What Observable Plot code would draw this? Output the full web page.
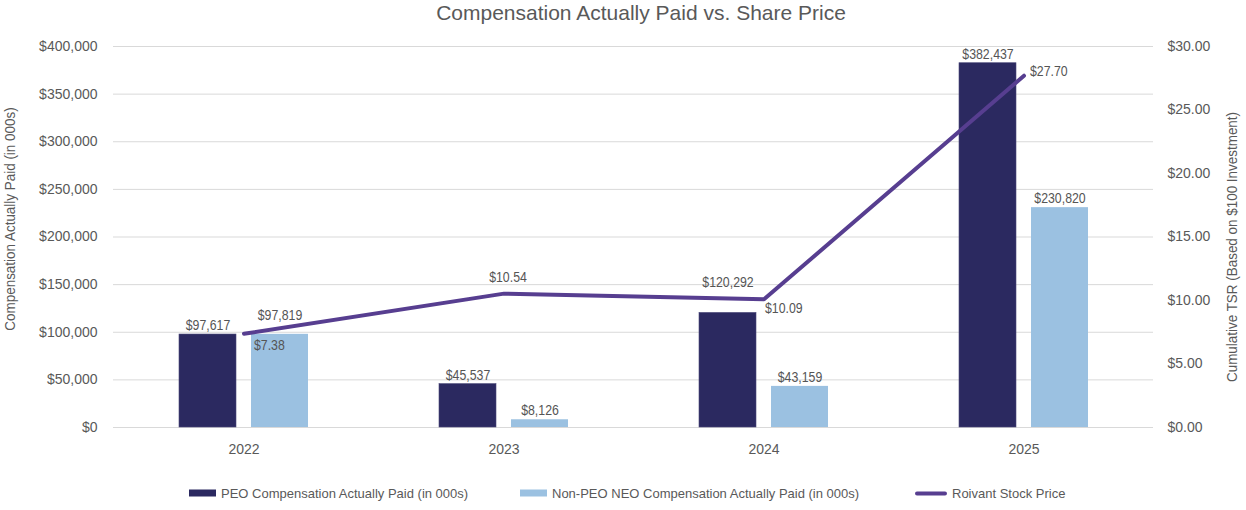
<!DOCTYPE html>
<html>
<head>
<meta charset="utf-8">
<script src="https://cdn.jsdelivr.net/npm/d3@7"></script>
<script src="https://cdn.jsdelivr.net/npm/@observablehq/plot@0.6"></script>
<style>
  body { margin: 0; background: #fff; font-family: "Liberation Sans", Arial, sans-serif; }
  #wrap { position: relative; width: 1246px; height: 510px; }
  #title { position: absolute; top: 0; left: 641px; transform: translateX(-50%); white-space: nowrap;
           font-size: 21px; line-height: 26px; color: #595959; }
  #chart { position: absolute; top: 26px; left: 0; }
  #legend { position: absolute; top: 476px; left: 0; width: 1246px; height: 34px; font-size: 13px; color: #595959; }
  .item { position: absolute; top: 17px; display: flex; align-items: center; white-space: nowrap; }
  .sw { display: inline-block; width: 27px; height: 7px; margin-right: 5px; }
  .ln { display: inline-block; width: 32px; height: 4px; border-radius: 2px; margin-right: 5px; }
</style>
</head>
<body>
<div id="wrap">
  <div id="title">Compensation Actually Paid vs. Share Price</div>
  <div id="chart"></div>
  <div id="legend"></div>
</div>
<script>
// ---- data ----
const years = ["2022", "2023", "2024", "2025"];
const peoCap = [97617, 45537, 120292, 382437];
const neoCap = [97819, 8126, 43159, 230820];
const stockPrice = [7.38, 10.54, 10.09, 27.70];
const leftTicks = [0, 50000, 100000, 150000, 200000, 250000, 300000, 350000, 400000];
const rightTicks = [0, 5, 10, 15, 20, 25, 30];
const seriesNames = ["PEO Compensation Actually Paid (in 000s)", "Non-PEO NEO Compensation Actually Paid (in 000s)", "Roivant Stock Price"];
const leftTitle = "Compensation Actually Paid (in 000s)";
const rightTitle = "Cumulative TSR (Based on $100 Investment)";

// ---- styles ----
const cPeo = "#2b2960", cNeo = "#9bc1e1", cLine = "#573e90", cText = "#595959";
const leftMax = 400000, rightMax = 30, k = leftMax / rightMax;

const peoRows = years.map((y, i) => ({year: y, value: peoCap[i]}));
const neoRows = years.map((y, i) => ({year: y, value: neoCap[i]}));
const stockRows = years.map((y, i) => ({year: y, price: stockPrice[i]}));

const fmtMoney = v => "$" + d3.format(",")(v);
const fmtPrice = v => "$" + v.toFixed(2);

const barW = 57, gap = 15, group = 2 * barW + gap;
const shift = (group - barW) / 2;

const lbl = (rows, opts) => Plot.text(rows, {
  x: "year", fill: "#555", fontSize: 14, ...opts
});

const chart = Plot.plot({
  width: 1246,
  height: 450,
  marginTop: 20,
  marginBottom: 49,
  marginLeft: 113,
  marginRight: 93,
  style: {fontFamily: "Liberation Sans, Arial, sans-serif", fontSize: "14px", color: cText, background: "#fff"},
  x: {type: "band", domain: years, paddingInner: 0.504, paddingOuter: 0.252, label: null},
  y: {domain: [0, leftMax], label: null},
  marks: [
    Plot.gridY(leftTicks, {stroke: "#d9d9d9", strokeOpacity: 1, strokeWidth: 1}),
    Plot.axisY(leftTicks, {anchor: "left", tickSize: 0, tickPadding: 16, tickFormat: fmtMoney, fontSize: 14, fill: cText, label: null}),
    Plot.axisY(rightTicks.map(t => t * k), {anchor: "right", tickSize: 0, tickPadding: 14, textAnchor: "start", tickFormat: d => fmtPrice(d / k), fontSize: 14, fill: cText, label: null}),
    Plot.axisX({tickSize: 0, tickPadding: 17, fontSize: 14, fill: cText, label: null}),
    Plot.barY(peoRows, {x: "year", y: "value", fill: cPeo, insetRight: group - barW, stroke: "#4a4878", strokeWidth: 0.6}),
    Plot.barY(neoRows, {x: "year", y: "value", fill: cNeo, insetLeft: group - barW}),
    Plot.line(stockRows, {x: "year", y: d => d.price * k, stroke: cLine, strokeWidth: 4, strokeLinecap: "round", strokeLinejoin: "round"}),
    // PEO labels
    lbl(peoRows.filter((d, i) => i !== 2), {y: "value", text: d => fmtMoney(d.value), dx: -shift, dy: -9}),
    lbl(peoRows.filter((d, i) => i === 2), {y: "value", text: d => fmtMoney(d.value), dx: -shift, dy: -30}),
    // NEO labels
    lbl(neoRows.filter((d, i) => i !== 0), {y: "value", text: d => fmtMoney(d.value), dx: shift, dy: -9}),
    lbl(neoRows.filter((d, i) => i === 0), {y: "value", text: d => fmtMoney(d.value), dx: shift, dy: -19}),
    // Stock price labels
    lbl(stockRows.filter((d, i) => i === 0), {y: d => d.price * k, text: d => fmtPrice(d.price), textAnchor: "start", dx: 10, dy: 12}),
    lbl(stockRows.filter((d, i) => i === 1), {y: d => d.price * k, text: d => fmtPrice(d.price), dx: 4, dy: -16}),
    lbl(stockRows.filter((d, i) => i === 2), {y: d => d.price * k, text: d => fmtPrice(d.price), textAnchor: "start", dx: 1, dy: 9}),
    lbl(stockRows.filter((d, i) => i === 3), {y: d => d.price * k, text: d => fmtPrice(d.price), textAnchor: "start", dx: 6, dy: -4}),
    // axis titles
    Plot.text([leftTitle], {frameAnchor: "left", textAnchor: "middle", dx: -103, dy: -18, rotate: -90, fontSize: 14, fill: cText}),
    Plot.text([rightTitle], {frameAnchor: "right", textAnchor: "middle", dx: 79, dy: 10, rotate: -90, fontSize: 14, fill: cText})
  ]
});
document.getElementById("chart").appendChild(chart);

// condensed look of data labels (the narrow face is not installed): scale each label about its anchor
function squeeze(el, s) {
  const X = +el.getAttribute("x") || 0, Y = +el.getAttribute("y") || 0;
  const T = el.getAttribute("transform") || "";
  el.setAttribute("transform", `${T} translate(${X},${Y}) scale(${s},1) translate(${-X},${-Y})`);
}
d3.select(chart).selectAll('g[aria-label="text"] text').each(function () {
  const s = this.textContent;
  if (s === leftTitle || s === rightTitle) squeeze(this, 0.96);
  else squeeze(this, 0.88);
});

// ---- legend ----
const legend = document.getElementById("legend");
const legendLeft = [189, 520, 915];
const legendKinds = [["sw", cPeo], ["sw", cNeo], ["ln", cLine]];
seriesNames.forEach((name, i) => {
  const it = document.createElement("div");
  it.className = "item";
  it.style.left = legendLeft[i] + "px";
  it.style.transform = "translateY(-50%)";
  const sw = document.createElement("span");
  sw.className = legendKinds[i][0];
  sw.style.background = legendKinds[i][1];
  const tx = document.createElement("span");
  tx.textContent = name;
  it.appendChild(sw);
  it.appendChild(tx);
  legend.appendChild(it);
});
</script>
</body>
</html>
